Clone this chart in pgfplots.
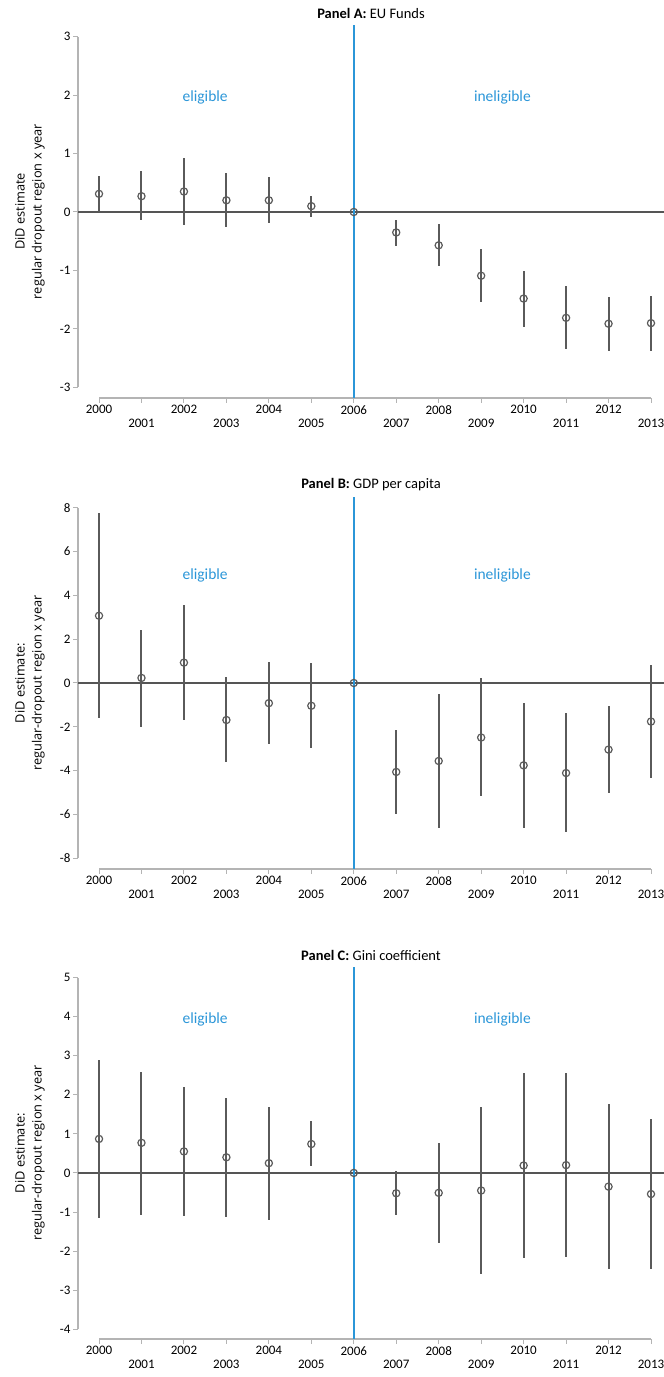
\documentclass[border=0pt]{standalone}
\usepackage{fontspec}
\setmainfont{Carlito}
\newfontfamily\labelfont{Open Sans}
\usepackage{pgfplots}
\usepackage{pgfplotstable}
\pgfplotsset{compat=1.18}
\definecolor{axgray}{HTML}{B4B4B4}
\definecolor{ptgray}{HTML}{5A5A5A}
\definecolor{zgray}{HTML}{555555}
\definecolor{eblue}{RGB}{43,150,216}

\pgfplotstableread{
x y hi lo
2000 0.31 0.61 0.00
2001 0.27 0.70 -0.14
2002 0.35 0.93 -0.23
2003 0.20 0.67 -0.26
2004 0.20 0.59 -0.19
2005 0.10 0.27 -0.09
2006 0.00 0.00 0.00
2007 -0.35 -0.14 -0.58
2008 -0.57 -0.21 -0.93
2009 -1.09 -0.64 -1.54
2010 -1.48 -1.01 -1.96
2011 -1.81 -1.26 -2.35
2012 -1.91 -1.45 -2.38
2013 -1.90 -1.44 -2.37
}\dataA
\pgfplotstableread{
x y hi lo
2000 3.07 7.74 -1.60
2001 0.23 2.43 -2.00
2002 0.93 3.57 -1.71
2003 -1.69 0.26 -3.62
2004 -0.92 0.98 -2.78
2005 -1.04 0.92 -2.98
2006 0.00 0.00 0.00
2007 -4.06 -2.15 -6.00
2008 -3.56 -0.52 -6.60
2009 -2.49 0.21 -5.18
2010 -3.76 -0.92 -6.61
2011 -4.11 -1.39 -6.82
2012 -3.04 -1.04 -5.04
2013 -1.76 0.82 -4.35
}\dataB
\pgfplotstableread{
x y hi lo
2000 0.87 2.88 -1.16
2001 0.77 2.59 -1.07
2002 0.55 2.19 -1.09
2003 0.40 1.92 -1.13
2004 0.25 1.69 -1.21
2005 0.74 1.32 0.17
2006 0.00 0.00 0.00
2007 -0.52 0.04 -1.08
2008 -0.51 0.77 -1.79
2009 -0.45 1.68 -2.59
2010 0.19 2.55 -2.18
2011 0.20 2.55 -2.14
2012 -0.35 1.77 -2.47
2013 -0.54 1.38 -2.47
}\dataC

\pgfplotsset{
  panel/.style={
    scale only axis, width=586pt, anchor=south west,
    xmin=1999.505, xmax=2013.306, clip=false,
    axis line style={draw=none},
    tick pos=left, tick align=outside,
    major tick length=5pt,
    tick style={axgray, line width=1pt},
    xtick={2000,2002,...,2012},
    extra x ticks={2001,2003,...,2013},
    extra x tick style={tick label style={yshift=-14pt}},
    /pgf/number format/1000 sep={},
    /pgf/number format/assume math mode=true,
    tick label style={font=\fontsize{13}{13}\selectfont, black},
    xticklabel style={yshift=1pt},
    yticklabel style={xshift=1pt},
    every axis title/.style={at={(0.5,1)}, anchor=center, yshift=12pt, font=\fontsize{14.5}{14.5}\selectfont},
    every axis y label/.style={at={(axis description cs:-0.082,0.5)}, rotate=90, anchor=center,
      align=center, font=\labelfont\fontsize{12.8}{17}\selectfont},
  },
  pts/.style={only marks, mark=o, mark size=3.6pt,
    mark options={draw=ptgray, fill=white, line width=1.2pt},
    error bars/.cd, y dir=both, y explicit, error mark=none,
    error bar style={ptgray, line width=2pt}},
  vline/.style={draw=eblue, line width=1.6pt, mark=none, forget plot},
  zline/.style={draw=zgray, line width=1.4pt, mark=none, forget plot},
}

\begin{document}
\begin{tikzpicture}
\useasboundingbox (0,0) rectangle (664pt,1377pt);

% Panel A
\begin{axis}[panel, at={(78pt,979pt)}, height=373pt, ymin=-3.18, ymax=3.197,
  ytick={-3,...,3},
  title={\textbf{Panel A:} EU Funds},
  ylabel={DiD estimate\\regular dropout region x year}]
  \draw[axgray, line width=1.5pt] (axis cs:1999.505,-3) -- (axis cs:1999.505,3);
  \draw[axgray, line width=1.5pt] (axis cs:2000,-3.18) -- (axis cs:2013,-3.18);
  \addplot[zline] coordinates {(1999.505,0) (2013.306,0)};
  \addplot[vline] coordinates {(2006,-3.18) (2006,3.197)};
  \node[text=eblue, font=\fontsize{15.5}{15.5}\selectfont] at (axis cs:2002.5,1.95) {eligible};
  \node[text=eblue, font=\fontsize{15.5}{15.5}\selectfont] at (axis cs:2009.5,1.95) {ineligible};
  \addplot[pts] table[x=x, y=y, y error plus expr=\thisrow{hi}-\thisrow{y}, y error minus expr=\thisrow{y}-\thisrow{lo}] {\dataA};
\end{axis}

% Panel B
\begin{axis}[panel, at={(78pt,508pt)}, height=372pt, ymin=-8.49, ymax=8.49,
  ytick={-8,-6,...,8},
  title={\textbf{Panel B:} GDP per capita},
  ylabel={DiD estimate:\\regular-dropout region x year}]
  \draw[axgray, line width=1.5pt] (axis cs:1999.505,-8) -- (axis cs:1999.505,8);
  \draw[axgray, line width=1.5pt] (axis cs:2000,-8.49) -- (axis cs:2013,-8.49);
  \addplot[zline] coordinates {(1999.505,0) (2013.306,0)};
  \addplot[vline] coordinates {(2006,-8.49) (2006,8.49)};
  \node[text=eblue, font=\fontsize{15.5}{15.5}\selectfont] at (axis cs:2002.5,4.9) {eligible};
  \node[text=eblue, font=\fontsize{15.5}{15.5}\selectfont] at (axis cs:2009.5,4.9) {ineligible};
  \addplot[pts] table[x=x, y=y, y error plus expr=\thisrow{hi}-\thisrow{y}, y error minus expr=\thisrow{y}-\thisrow{lo}] {\dataB};
\end{axis}

% Panel C
\begin{axis}[panel, at={(78pt,38pt)}, height=372pt, ymin=-4.25, ymax=5.27,
  ytick={-4,...,5},
  title={\textbf{Panel C:} Gini coefficient},
  ylabel={DiD estimate:\\regular-dropout region x year}]
  \draw[axgray, line width=1.5pt] (axis cs:1999.505,-4) -- (axis cs:1999.505,5);
  \draw[axgray, line width=1.5pt] (axis cs:2000,-4.25) -- (axis cs:2013,-4.25);
  \addplot[zline] coordinates {(1999.505,0) (2013.306,0)};
  \addplot[vline] coordinates {(2006,-4.25) (2006,5.27)};
  \node[text=eblue, font=\fontsize{15.5}{15.5}\selectfont] at (axis cs:2002.5,3.94) {eligible};
  \node[text=eblue, font=\fontsize{15.5}{15.5}\selectfont] at (axis cs:2009.5,3.94) {ineligible};
  \addplot[pts] table[x=x, y=y, y error plus expr=\thisrow{hi}-\thisrow{y}, y error minus expr=\thisrow{y}-\thisrow{lo}] {\dataC};
\end{axis}
\end{tikzpicture}
\end{document}
